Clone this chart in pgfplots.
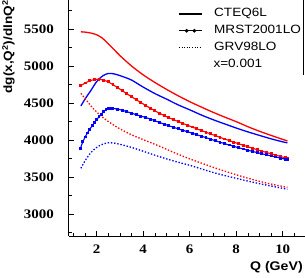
\documentclass[border=0pt]{standalone}
\usepackage{fontspec}
\setmainfont{Liberation Sans}
\newfontfamily\tickfont[FakeStretch=1.15]{Liberation Serif}
\newfontfamily\labfont[FakeStretch=1.13]{Liberation Sans}
\usepackage{pgfplots}
\pgfplotsset{compat=1.18}
\definecolor{rred}{RGB}{255,0,0}
\definecolor{bblue}{RGB}{0,0,255}
\pgfplotsset{mrst legend/.style={legend image code/.code={\draw[##1] (0pt,0pt) -- (23pt,0pt); \fill[black] (7.7pt,0pt) circle (1.3pt); \fill[black] (15.4pt,0pt) circle (1.3pt);}}}
\begin{document}
\begin{tikzpicture}
\useasboundingbox (-68.8pt,-40.8pt) rectangle (236.2pt,236.2pt);
\clip (-68.8pt,-40.8pt) rectangle (236.2pt,236.2pt);
\begin{axis}[
  at={(0,0)}, anchor=south west,
  scale only axis, width=237.2pt, height=236.8pt,
  xmin=0.8, xmax=11.0, ymin=2700, ymax=5900,
  axis x line=bottom, axis y line=left,
  axis line style={-, line width=1pt},
  xtick={0,2,...,12}, ytick={2500,3000,...,6000},
  minor x tick num=3, minor y tick num=1,
  tick align=inside, major tick length=5pt, minor tick length=3pt,
  tick style={black, line width=0.6pt},
  /pgf/number format/assume math mode=true,
  /pgf/number format/1000 sep={},
  xticklabel style={font=\tickfont\bfseries\fontsize{13}{13}\selectfont, yshift=-5.5pt},
  yticklabel style={font=\tickfont\bfseries\fontsize{13}{13}\selectfont, xshift=-11.5pt},
  ylabel={dg(x,Q\textsuperscript{2})/dlnQ\textsuperscript{2}},
  xlabel={Q (GeV)},
  every axis y label/.style={at={(axis description cs:-0.254,0.997)}, rotate=90, anchor=east, inner sep=0pt,
     font=\labfont\bfseries\fontsize{12}{12}\selectfont},
  every axis x label/.style={at={(axis description cs:0.987,0)}, anchor=north east, yshift=-25.5pt, inner sep=0pt,
     font=\labfont\bfseries\fontsize{12.5}{12.5}\selectfont},
  legend image code/.code={\draw[#1] (0pt,0pt) -- (23pt,0pt);},
  legend cell align=left,
  legend style={draw=none, fill=none, at={(axis description cs:0.4616,0.9641)}, anchor=north west,
     inner sep=0pt, outer sep=0pt, column sep=11.6pt, row sep=4.9pt,
     nodes={inner sep=0pt, text height=9pt, text depth=3pt, font=\labfont\fontsize{12}{12}\selectfont}},
]
% CTEQ6L red
\addplot[rred, line width=1.3pt, smooth, tension=0.5, forget plot] coordinates {
(1.32,5462) (1.5,5458) (1.75,5445) (2.0,5422) (2.25,5375) (2.5,5300) (2.75,5222) (3.0,5140)
(3.5,5000) (4.0,4880) (4.5,4778) (5.0,4685) (5.5,4598) (6.0,4518) (6.5,4445) (7.0,4375)
(7.5,4310) (8.0,4248) (8.5,4180) (9.0,4118) (9.5,4062) (10.0,4008) (10.2,3988)};
% CTEQ6L blue
\addplot[bblue, line width=1.3pt, smooth, tension=0.5, forget plot] coordinates {
(1.32,4460) (1.5,4555) (1.75,4670) (2.0,4790) (2.25,4865) (2.5,4900) (2.75,4893) (3.0,4870)
(3.25,4842) (3.5,4810) (4.0,4715) (4.5,4628) (5.0,4553) (5.5,4475) (6.0,4408) (6.5,4338)
(7.0,4275) (7.5,4218) (8.0,4162) (8.5,4110) (9.0,4062) (9.5,4016) (10.0,3975) (10.2,3962)};
% MRST red
\addplot[rred, line width=1.1pt, mark=square*, mark size=0.9pt, forget plot] coordinates {
(1.3,4732) (1.5,4770) (1.7,4800) (1.9,4818) (2.1,4822) (2.3,4810) (2.5,4785) (2.7,4748)
(2.9,4708) (3.1,4665) (3.3,4624) (3.5,4584) (3.7,4545) (3.9,4506) (4.1,4468) (4.3,4431)
(4.5,4395) (4.7,4362) (4.9,4330) (5.1,4302) (5.3,4275) (5.5,4250) (5.7,4225) (5.9,4200)
(6.1,4176) (6.3,4152) (6.5,4128) (6.7,4105) (6.9,4082) (7.1,4059) (7.3,4036) (7.5,4014)
(7.7,3992) (7.9,3971) (8.1,3950) (8.3,3929) (8.5,3909) (8.7,3889) (8.9,3869) (9.1,3850)
(9.3,3831) (9.5,3813) (9.7,3795) (9.9,3777) (10.1,3759) (10.2,3750)};
% MRST blue
\addplot[bblue, line width=1.1pt, mark=square*, mark size=0.9pt, forget plot] coordinates {
(1.3,3885) (1.4,3975) (1.5,4040) (1.6,4095) (1.7,4145) (1.8,4190) (1.9,4235) (2.0,4275)
(2.1,4315) (2.2,4350) (2.3,4385) (2.4,4410) (2.5,4425) (2.6,4430) (2.7,4428) (2.9,4418)
(3.1,4402) (3.3,4383) (3.5,4362) (3.7,4342) (3.9,4323) (4.1,4305) (4.3,4283) (4.5,4260)
(4.7,4237) (4.9,4214) (5.1,4193) (5.3,4172) (5.5,4152) (5.7,4132) (5.9,4112) (6.1,4092)
(6.3,4072) (6.5,4052) (6.7,4032) (6.9,4011) (7.1,3990) (7.3,3970) (7.5,3951) (7.7,3932)
(7.9,3914) (8.1,3896) (8.3,3879) (8.5,3862) (8.7,3846) (8.9,3830) (9.1,3814) (9.3,3799)
(9.5,3784) (9.7,3770) (9.9,3756) (10.1,3742) (10.2,3735)};
% GRV red
\addplot[rred, line width=1.3pt, dash pattern=on 1.4pt off 1.8pt, smooth, tension=0.5, forget plot] coordinates {
(1.32,4630) (1.5,4560) (1.75,4462) (2.0,4378) (2.25,4308) (2.5,4250) (2.75,4198) (3.0,4150)
(3.5,4070) (4.0,4005) (4.5,3942) (5.0,3875) (5.5,3808) (6.0,3745) (6.5,3688) (7.0,3632)
(7.5,3580) (8.0,3530) (8.5,3484) (9.0,3442) (9.5,3404) (10.0,3372) (10.2,3360)};
% GRV blue
\addplot[bblue, line width=1.3pt, dash pattern=on 1.4pt off 1.8pt, smooth, tension=0.5, forget plot] coordinates {
(1.32,3618) (1.5,3720) (1.75,3830) (2.0,3900) (2.25,3942) (2.5,3962) (2.75,3958) (3.0,3942)
(3.5,3900) (4.0,3848) (4.5,3795) (5.0,3745) (5.5,3700) (6.0,3658) (6.5,3610) (7.0,3562)
(7.5,3520) (8.0,3482) (8.5,3445) (9.0,3410) (9.5,3378) (10.0,3347) (10.2,3335)};
% legend
\addlegendimage{black, line width=1.2pt}
\addlegendentry{CTEQ6L}
\addlegendimage{black, line width=1pt, mrst legend}
\addlegendentry{MRST2001LO}
\addlegendimage{black, line width=1.3pt, dash pattern=on 1pt off 1.6pt}
\addlegendentry{GRV98LO}
\node[anchor=base west, inner sep=0pt, font=\labfont\fontsize{12}{12}\selectfont] at (axis description cs:0.6092,0.7124) {x=0.001};
\draw[black, line width=0.9pt] (axis description cs:0.9886,1.01) -- (axis description cs:0.9886,0.68);
\end{axis}
\end{tikzpicture}
\end{document}
